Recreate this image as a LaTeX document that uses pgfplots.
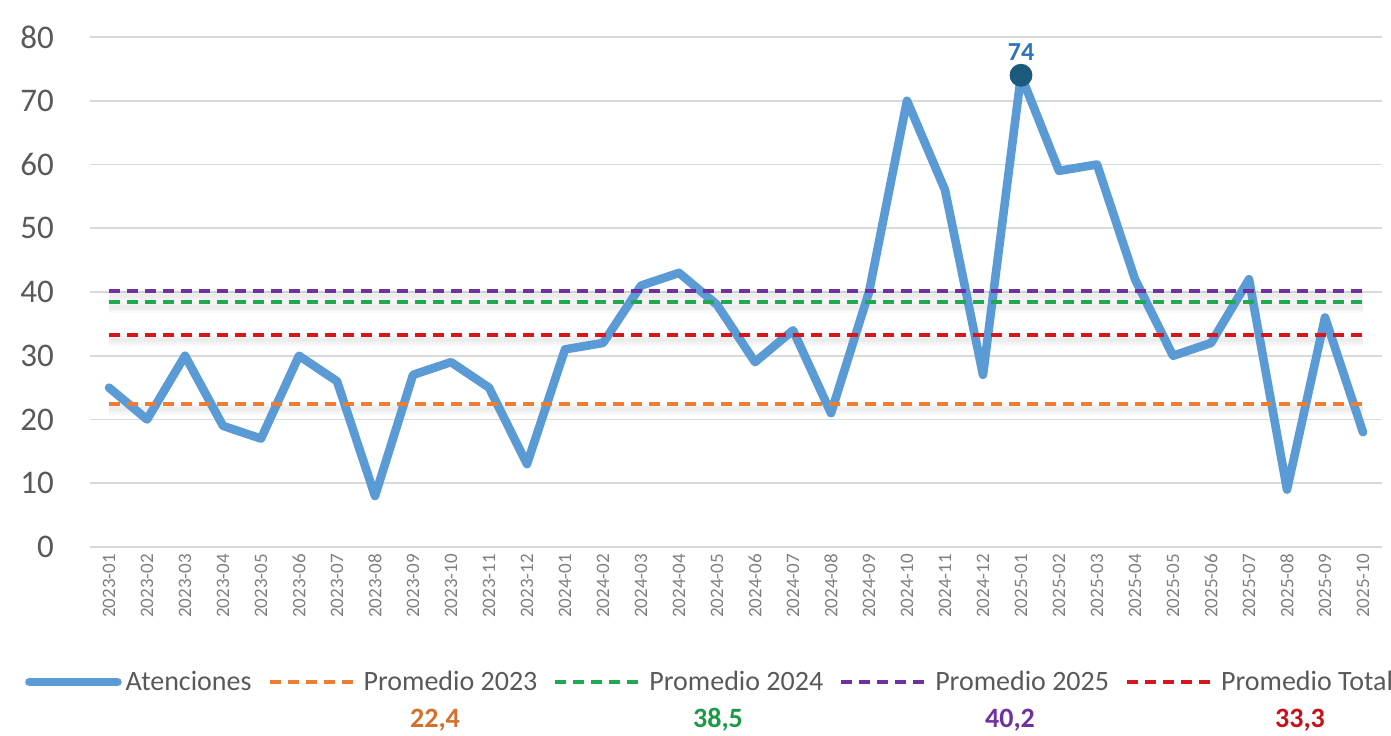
\documentclass[border=0pt]{standalone}
\usepackage{fontspec}
\setmainfont{Carlito}
\usepackage{pgfplots}
\usepackage{pgfplotstable}
\pgfplotsset{compat=1.18}

\definecolor{serieazul}{HTML}{5B9BD5}
\definecolor{picoazul}{HTML}{1B5A7D}
\definecolor{etiquetaazul}{HTML}{2E75B6}
\definecolor{naranja}{HTML}{ED7D31}
\definecolor{verde}{HTML}{1FAA4F}
\definecolor{morado}{HTML}{7030A0}
\definecolor{rojo}{HTML}{D9141B}
\definecolor{gridgris}{HTML}{D9D9D9}
\definecolor{gristexto}{HTML}{595959}
\definecolor{gristick}{HTML}{7F7F7F}

% atenciones por mes, 2023-01 .. 2025-10
\pgfplotstableread{
x valor
0 25
1 20
2 30
3 19
4 17
5 30
6 26
7 8
8 27
9 29
10 25
11 13
12 31
13 32
14 41
15 43
16 38
17 29
18 34
19 21
20 40
21 70
22 56
23 27
24 74
25 59
26 60
27 42
28 30
29 32
30 42
31 9
32 36
33 18
}\atenciones

\pgfplotsset{
    sombra/.style={forget plot, draw=black, opacity=0.025, line width=#1, yshift=-2.5pt},
    promedio/.style={#1, line width=2pt, dash pattern=on 5.5pt off 3.5pt},
}

\begin{document}
\begin{tikzpicture}
\begin{axis}[
    name=ax,
    scale only axis,
    width=646pt, height=255pt,
    xmin=-0.5, xmax=33.5,
    ymin=0, ymax=80,
    xtick={0,...,33},
    xticklabels={2023-01,2023-02,2023-03,2023-04,2023-05,2023-06,2023-07,2023-08,2023-09,2023-10,2023-11,2023-12,
                 2024-01,2024-02,2024-03,2024-04,2024-05,2024-06,2024-07,2024-08,2024-09,2024-10,2024-11,2024-12,
                 2025-01,2025-02,2025-03,2025-04,2025-05,2025-06,2025-07,2025-08,2025-09,2025-10},
    ytick={0,10,...,80},
    ymajorgrids,
    major grid style={draw=gridgris, line width=0.8pt},
    axis line style={draw=none},
    major tick style={draw=none},
    clip=false,
    /pgf/number format/assume math mode=true,
    yticklabel style={font=\fontsize{16.5}{19}\selectfont, text=gristexto, xshift=-14.5pt},
    xticklabel style={font=\fontsize{9.5}{11}\selectfont, text=gristick, rotate=90, anchor=east},
    legend columns=5,
    legend cell align=left,
    legend style={at={(0.4807,-0.2647)}, anchor=center, draw=none, fill=none,
        font=\fontsize{14}{17}\selectfont, text=gristexto,
        /tikz/every even column/.append style={column sep=6pt}},
    legend image code/.code={\draw[#1] (0pt,0pt) -- (44pt,0pt);},
]
% sombras difusas de las lineas de promedio
\foreach \v in {22.4,38.5,40.2,33.3} {
    \addplot[sombra=6pt] coordinates {(0,\v)(33,\v)};
    \addplot[sombra=4pt] coordinates {(0,\v)(33,\v)};
    \addplot[sombra=2pt] coordinates {(0,\v)(33,\v)};
}

\addplot[serieazul, line width=4.3pt, line join=round, line cap=round] table[x=x, y=valor] {\atenciones};
\addlegendentry{Atenciones}
\addplot[promedio=naranja] coordinates {(0,22.4)(33,22.4)};
\addlegendentry{Promedio 2023}
\addplot[promedio=verde] coordinates {(0,38.5)(33,38.5)};
\addlegendentry{Promedio 2024}
\addplot[promedio=morado] coordinates {(0,40.2)(33,40.2)};
\addlegendentry{Promedio 2025}
\addplot[promedio=rojo] coordinates {(0,33.3)(33,33.3)};
\addlegendentry{Promedio Total}

% maximo
\addplot[forget plot, only marks, mark=*, mark size=5.5pt, color=picoazul,
    nodes near coords,
    every node near coord/.append style={font=\bfseries\fontsize{13}{15}\selectfont, text=etiquetaazul, yshift=4pt}]
    coordinates {(24,74)};
\end{axis}

\node[font=\bfseries\fontsize{14}{17}\selectfont, text=naranja!90!black] at ([xshift=172.5pt, yshift=-86.5pt]ax.south west) {22,4};
\node[font=\bfseries\fontsize{14}{17}\selectfont, text=verde!90!black] at ([xshift=314pt, yshift=-86.5pt]ax.south west) {38,5};
\node[font=\bfseries\fontsize{14}{17}\selectfont, text=morado] at ([xshift=460pt, yshift=-86.5pt]ax.south west) {40,2};
\node[font=\bfseries\fontsize{14}{17}\selectfont, text=rojo!90!black] at ([xshift=605pt, yshift=-86.5pt]ax.south west) {33,3};

\pgfresetboundingbox
\path ([xshift=-45pt, yshift=-94.5pt]ax.south west) rectangle ([xshift=4.5pt, yshift=18.5pt]ax.north east);
\end{tikzpicture}
\end{document}
